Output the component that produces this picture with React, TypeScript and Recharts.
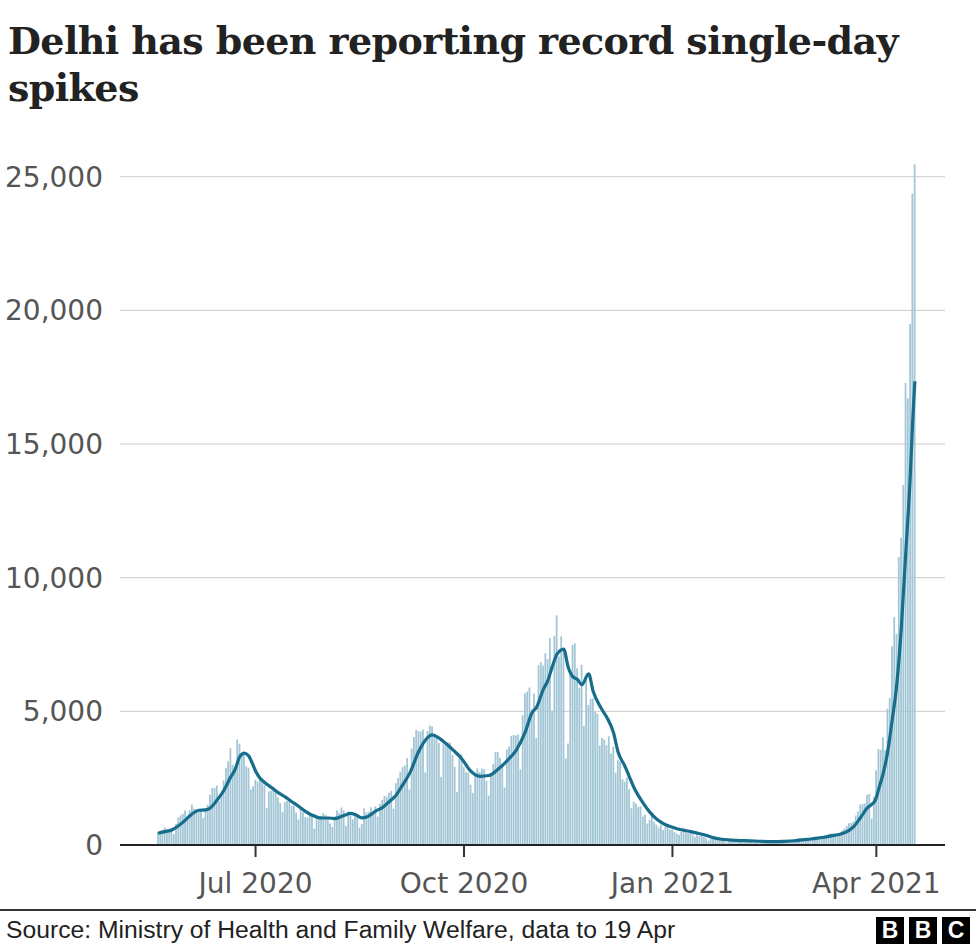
import { ComposedChart, Bar, Line, XAxis, YAxis, CartesianGrid } from 'recharts'

// daily new cases in Delhi, month by month (first month starts on 19 May)
const MAY_2020 = [500, 534, 571, 660, 591, 508, 635, 412, 792, 1024, 1106, 1163, 1295]
const JUN_2020 = [990, 1298, 1513, 1359, 1330, 1320, 1282, 1007, 1366, 1501, 1877, 2137, 2134, 2224, 1647, 1859, 2414, 2877, 3137, 3630, 3000, 2909, 3947, 3788, 3390, 3460, 2948, 2889, 2084, 2199]
const JUL_2020 = [2442, 2373, 2520, 2505, 2244, 1379, 2008, 2033, 2187, 2089, 1781, 1573, 1246, 1606, 1647, 1652, 1462, 1475, 1211, 954, 1349, 1227, 1041, 1025, 1142, 1075, 613, 1056, 1035, 1093, 1195]
const AUG_2020 = [1118, 961, 805, 674, 1076, 1299, 1192, 1404, 1300, 707, 1257, 1113, 956, 1192, 1140, 652, 787, 1374, 1215, 1250, 1412, 1230, 1450, 1061, 1544, 1693, 1840, 1808, 1954, 2024, 1358]
const SEP_2020 = [2312, 2509, 2737, 2914, 2973, 3256, 2077, 3609, 4039, 4308, 4266, 4235, 4321, 2717, 4263, 4473, 4432, 4127, 4071, 3812, 2548, 3816, 3714, 3834, 3827, 3372, 2924, 1984, 3227, 3390]
const OCT_2020 = [2920, 2725, 2707, 2258, 1947, 2676, 2871, 2726, 2860, 2833, 2404, 1849, 2677, 3036, 3483, 3476, 3259, 3040, 2154, 3579, 3686, 4086, 4116, 4098, 4136, 2832, 4853, 5673, 5739, 5891, 5062]
const NOV_2020 = [5664, 4001, 6725, 6842, 6715, 7178, 6953, 7745, 5023, 7830, 8593, 7053, 7802, 7340, 3235, 3797, 6396, 7486, 7546, 6608, 5879, 6746, 4454, 6224, 5246, 5475, 5482, 4998, 4906, 3726]
const DEC_2020 = [4006, 3944, 3734, 4067, 3419, 3674, 2706, 3188, 3113, 2463, 2365, 2520, 2089, 1376, 1617, 1547, 1418, 1455, 1063, 1139, 803, 939, 1067, 871, 758, 655, 757, 564, 703, 677, 574]
const JAN_2021 = [585, 494, 424, 384, 486, 654, 486, 444, 519, 399, 306, 386, 341, 384, 295, 246, 161, 231, 228, 250, 225, 197, 227, 185, 96, 148, 199, 173, 212, 161, 156]
const FEB_2021 = [121, 165, 178, 169, 157, 164, 141, 94, 131, 123, 94, 145, 109, 139, 145, 123, 134, 145, 128, 152, 145, 128, 145, 200, 220, 256, 240, 217]
const MAR_2021 = [175, 217, 264, 256, 312, 286, 321, 239, 320, 370, 409, 431, 419, 407, 368, 425, 536, 607, 716, 813, 823, 888, 1101, 1254, 1515, 1534, 1558, 1881, 1904, 992, 1819]
const APR_2021 = [2790, 3594, 3567, 4033, 3548, 5100, 5506, 7437, 8521, 7897, 10774, 11491, 13468, 17282, 16699, 19486, 24375, 25462]

// 7-day average: [day of month, value]
const AVG_MAY_2020 = [[19, 440], [22, 500], [25, 560], [28, 720], [31, 930]]
const AVG_JUN_2020 = [[2, 1095], [6, 1300], [9, 1315], [11, 1385], [14, 1680], [17, 2040], [20, 2540], [22, 2830], [24, 3300], [26, 3440], [28, 3330], [30, 2970]]
const AVG_JUL_2020 = [[1, 2770], [3, 2500], [5, 2340], [8, 2150], [11, 1960], [14, 1800], [17, 1620], [20, 1450], [23, 1260], [26, 1115], [30, 1010]]
const AVG_AUG_2020 = [[2, 1010], [5, 990], [9, 1105], [12, 1180], [14, 1140], [17, 1015], [19, 1045], [23, 1270], [26, 1400], [29, 1620]]
const AVG_SEP_2020 = [[1, 1860], [4, 2260], [7, 2680], [11, 3500], [14, 3930], [17, 4120], [20, 4000], [23, 3800], [26, 3570], [30, 3230]]
const AVG_OCT_2020 = [[4, 2760], [8, 2570], [12, 2600], [16, 2830], [20, 3150], [24, 3540], [28, 4220], [31, 4950]]
const AVG_NOV_2020 = [[2, 5150], [5, 5820], [7, 6150], [9, 6680], [11, 7130], [14, 7330], [16, 6650], [18, 6300], [20, 6200], [22, 6000], [25, 6400], [27, 5750], [30, 5200]]
const AVG_DEC_2020 = [[1, 5050], [3, 4780], [6, 4200], [8, 3480], [11, 2950], [13, 2550], [15, 2150], [19, 1580], [22, 1230], [25, 970], [28, 800], [31, 690]]
const AVG_JAN_2021 = [[3, 610], [6, 550], [9, 500], [12, 445], [15, 385], [18, 300], [22, 225], [27, 185], [31, 165]]
const AVG_FEB_2021 = [[4, 158], [9, 140], [14, 130], [19, 138], [24, 160], [28, 200]]
const AVG_MAR_2021 = [[3, 225], [6, 255], [9, 290], [12, 340], [16, 405], [19, 500], [22, 690], [25, 1020], [28, 1390], [30, 1520], [31, 1600]]
const AVG_APR_2021 = [[1, 1780], [2, 2080], [4, 2670], [6, 3490], [8, 4680], [10, 6000], [12, 8100], [14, 10950], [16, 13850], [17, 15800], [18, 17350]]

const MONTHS = [
  { key: '2020-05', firstDay: 19, cases: MAY_2020, avg: AVG_MAY_2020 },
  { key: '2020-06', firstDay: 1, cases: JUN_2020, avg: AVG_JUN_2020 },
  { key: '2020-07', firstDay: 1, cases: JUL_2020, avg: AVG_JUL_2020 },
  { key: '2020-08', firstDay: 1, cases: AUG_2020, avg: AVG_AUG_2020 },
  { key: '2020-09', firstDay: 1, cases: SEP_2020, avg: AVG_SEP_2020 },
  { key: '2020-10', firstDay: 1, cases: OCT_2020, avg: AVG_OCT_2020 },
  { key: '2020-11', firstDay: 1, cases: NOV_2020, avg: AVG_NOV_2020 },
  { key: '2020-12', firstDay: 1, cases: DEC_2020, avg: AVG_DEC_2020 },
  { key: '2021-01', firstDay: 1, cases: JAN_2021, avg: AVG_JAN_2021 },
  { key: '2021-02', firstDay: 1, cases: FEB_2021, avg: AVG_FEB_2021 },
  { key: '2021-03', firstDay: 1, cases: MAR_2021, avg: AVG_MAR_2021 },
  { key: '2021-04', firstDay: 1, cases: APR_2021, avg: AVG_APR_2021 },
]

const X_TICKS = ['2020-07-01', '2020-10-01', '2021-01-01', '2021-04-01']
const X_TICK_LABELS = ['Jul 2020', 'Oct 2020', 'Jan 2021', 'Apr 2021']
const Y_TICKS = [0, 5000, 10000, 15000, 20000, 25000]

const pad = (n: number) => String(n).padStart(2, '0')

const rows = MONTHS.flatMap(m => {
  const avgByDay = new Map(m.avg.map(([d, v]) => [d, v]))
  return m.cases.map((c, i) => {
    const day = m.firstDay + i
    return { date: `${m.key}-${pad(day)}`, cases: c, avg: avgByDay.get(day) ?? null }
  })
})

const BAR_COLOR = '#a3c6d6'
const LINE_COLOR = '#176d8c'
const SANS = '"DejaVu Sans", sans-serif'

function BbcLogo() {
  return (
    <div style={{ position: 'absolute', left: 876, top: 917, display: 'flex', gap: 5 }}>
      {['B', 'B', 'C'].map((l, i) => (
        <div
          key={i}
          style={{
            width: 28, height: 27, background: '#000', color: '#fff',
            fontFamily: '"Liberation Sans", sans-serif', fontWeight: 700, fontSize: 23,
            lineHeight: '27px', textAlign: 'center',
          }}
        >
          {l}
        </div>
      ))}
    </div>
  )
}

export default function App() {
  return (
    <div style={{ position: 'absolute', left: 0, top: 0, width: 976, height: 950, background: '#fff', overflow: 'hidden' }}>
      <div style={{ position: 'absolute', left: 0, top: 0 }}>
        <ComposedChart width={976} height={950} data={rows} margin={{ top: 150, right: 31, bottom: 0, left: 0 }}>
          <CartesianGrid vertical={false} stroke="#cccccc" horizontalValues={Y_TICKS} />
          <XAxis
            dataKey="date"
            ticks={X_TICKS}
            interval={0}
            tickFormatter={(v) => X_TICK_LABELS[X_TICKS.indexOf(v)] ?? ''}
            padding={{ left: 37, right: 29 }}
            height={105}
            tickSize={12}
            tickMargin={16}
            axisLine={{ stroke: '#222', strokeWidth: 2 }}
            tickLine={{ stroke: '#333', strokeWidth: 2 }}
            tick={{ fill: '#555', fontSize: 28, fontFamily: SANS }}
          />
          <YAxis
            domain={[0, 26000]}
            ticks={Y_TICKS}
            interval={0}
            width={120}
            axisLine={false}
            tickLine={false}
            tickSize={0}
            tickMargin={17}
            tickFormatter={(v) => v.toLocaleString('en-US')}
            tick={{ fill: '#555', fontSize: 28, fontFamily: SANS }}
          />
          <Bar dataKey="cases" fill={BAR_COLOR} barSize={1.8} isAnimationActive={false} />
          <Line
            dataKey="avg"
            type="monotone"
            stroke={LINE_COLOR}
            strokeWidth={3.2}
            dot={false}
            activeDot={false}
            connectNulls
            isAnimationActive={false}
          />
        </ComposedChart>
      </div>
      <div
        style={{
          position: 'absolute', left: 8, top: 17, color: '#222', whiteSpace: 'nowrap',
          fontFamily: '"DejaVu Serif", serif', fontWeight: 700, fontSize: 38, lineHeight: '47px',
          letterSpacing: -0.6,
        }}
      >
        Delhi has been reporting record single-day
        <br />
        spikes
      </div>
      <div style={{ position: 'absolute', left: 0, top: 909, width: 976, height: 2, background: '#333' }} />
      <div
        style={{
          position: 'absolute', left: 6, top: 916, color: '#222', whiteSpace: 'nowrap',
          fontFamily: '"Liberation Sans", sans-serif', fontSize: 24.7, lineHeight: '28px',
        }}
      >
        Source: Ministry of Health and Family Welfare, data to 19 Apr
      </div>
      <BbcLogo />
    </div>
  )
}
